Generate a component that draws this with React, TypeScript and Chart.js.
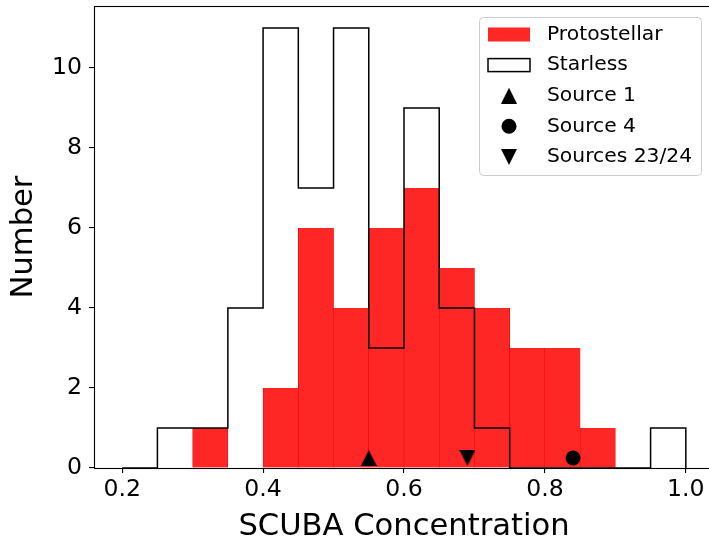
import React, { useEffect, useRef } from 'react';
import { Chart, registerables } from 'chart.js';

Chart.register(...registerables);

// ---- data ----
const binEdges = [0.2, 0.25, 0.3, 0.35, 0.4, 0.45, 0.5, 0.55, 0.6, 0.65, 0.7, 0.75, 0.8, 0.85, 0.9, 0.95, 1.0];
const protostellarCounts = [0, 0, 1, 0, 2, 6, 4, 6, 7, 5, 4, 3, 3, 1, 0, 0];
const starlessCounts = [0, 1, 1, 4, 11, 7, 11, 3, 9, 4, 1, 0, 0, 0, 0, 1];

const source1X = [0.55];
const source1Y = [0.25];
const source4X = [0.84];
const source4Y = [0.25];
const sources2324X = [0.69];
const sources2324Y = [0.25];

const xTicks = [0.2, 0.4, 0.6, 0.8, 1.0];
const yTicks = [0, 2, 4, 6, 8, 10];
const xRange = [0.16, 1.04];
const yRange = [0, 11.55];

const legendLabels = ['Protostellar', 'Starless', 'Source 1', 'Source 4', 'Sources 23/24'];

const FONT = '"DejaVu Sans", "Liberation Sans", sans-serif';
const RED = 'rgba(255, 38, 38, 1)';

function makeTriangle(up: boolean, size: number): HTMLCanvasElement {
  const c = document.createElement('canvas');
  c.width = size;
  c.height = size;
  const ctx = c.getContext('2d')!;
  ctx.fillStyle = '#000';
  ctx.beginPath();
  if (up) {
    ctx.moveTo(size / 2, 0);
    ctx.lineTo(size, size);
    ctx.lineTo(0, size);
  } else {
    ctx.moveTo(0, 0);
    ctx.lineTo(size, 0);
    ctx.lineTo(size / 2, size);
  }
  ctx.closePath();
  ctx.fill();
  return c;
}

function zeroPad(axis: any) {
  axis.paddingTop = 0;
  axis.paddingBottom = 0;
  axis.paddingLeft = 0;
  axis.paddingRight = 0;
}

export default function App() {
  const ref = useRef<HTMLCanvasElement | null>(null);

  useEffect(() => {
    if (!ref.current) return;
    const triUp = makeTriangle(true, 16);
    const triDown = makeTriangle(false, 16);

    const centers = protostellarCounts.map((_, i) => (binEdges[i] + binEdges[i + 1]) / 2);
    const barData = protostellarCounts.map((c, i) => ({ x: centers[i], y: c }));

    const stepData: { x: number; y: number }[] = [{ x: binEdges[0], y: 0 }];
    starlessCounts.forEach((c, i) => {
      stepData.push({ x: binEdges[i], y: c });
      stepData.push({ x: binEdges[i + 1], y: c });
    });
    stepData.push({ x: binEdges[binEdges.length - 1], y: 0 });

    const spinePlugin = {
      id: 'spines',
      afterDatasetsDraw(chart: any) {
        const { ctx, chartArea: a } = chart;
        ctx.save();
        ctx.strokeStyle = '#000';
        ctx.lineWidth = 1.1;
        ctx.strokeRect(a.left + 0.5, a.top + 0.5, a.right - a.left, a.bottom - a.top);
        ctx.restore();
      },
    };

    const legendPlugin = {
      id: 'mplLegend',
      afterDraw(chart: any) {
        const ctx = chart.ctx as CanvasRenderingContext2D;
        ctx.save();
        const bx = 479.5, by = 17.5, bw = 222, bh = 158;
        ctx.beginPath();
        (ctx as any).roundRect(bx, by, bw, bh, 4);
        ctx.fillStyle = 'rgba(255,255,255,0.8)';
        ctx.fill();
        ctx.strokeStyle = '#cccccc';
        ctx.lineWidth = 1;
        ctx.stroke();

        const rowY = (i: number) => 34.5 + i * 30.6;
        const hx = 488, hw = 42, mx = 509;
        ctx.fillStyle = RED;
        ctx.fillRect(hx, rowY(0) - 7, hw, 14);
        ctx.strokeStyle = '#000';
        ctx.lineWidth = 1.5;
        ctx.strokeRect(hx, rowY(1) - 6.5, hw, 13);
        ctx.drawImage(triUp, mx - 8, rowY(2) - 8);
        ctx.fillStyle = '#000';
        ctx.beginPath();
        ctx.arc(mx, rowY(3), 7.5, 0, Math.PI * 2);
        ctx.fill();
        ctx.drawImage(triDown, mx - 8, rowY(4) - 8);

        ctx.fillStyle = '#000';
        ctx.font = `20.3px ${FONT}`;
        ctx.textBaseline = 'middle';
        ctx.textAlign = 'left';
        legendLabels.forEach((t, i) => ctx.fillText(t, 547, rowY(i)));
        ctx.restore();
      },
    };

    const chart = new Chart(ref.current, {
      type: 'bar',
      data: {
        datasets: [
          {
            type: 'bar',
            label: legendLabels[0],
            data: barData,
            backgroundColor: RED,
            borderColor: 'rgba(240, 0, 0, 1)',
            borderWidth: { left: 0.6, right: 0.6, top: 0, bottom: 0 },
            borderSkipped: false,
            barPercentage: 1,
            categoryPercentage: 1,
            grouped: false,
            order: 3,
          } as any,
          {
            type: 'line',
            label: legendLabels[1],
            data: stepData,
            borderColor: '#000',
            borderWidth: 1.5,
            pointRadius: 0,
            fill: false,
            tension: 0,
            order: 2,
          } as any,
          {
            type: 'line',
            label: legendLabels[2],
            data: source1X.map((x, i) => ({ x, y: source1Y[i] })),
            showLine: false,
            pointStyle: triUp,
            pointRadius: 8,
            order: 1,
          } as any,
          {
            type: 'line',
            label: legendLabels[3],
            data: source4X.map((x, i) => ({ x, y: source4Y[i] })),
            showLine: false,
            pointStyle: 'circle',
            pointRadius: 7.5,
            pointBorderWidth: 0,
            pointBackgroundColor: '#000',
            order: 1,
          } as any,
          {
            type: 'line',
            label: legendLabels[4],
            data: sources2324X.map((x, i) => ({ x, y: sources2324Y[i] })),
            showLine: false,
            pointStyle: triDown,
            pointRadius: 8,
            order: 1,
          } as any,
        ],
      },
      options: {
        responsive: false,
        animation: false,
        layout: { autoPadding: false, padding: { top: 6, right: 6, left: 0, bottom: 0 } },
        plugins: { legend: { display: false }, tooltip: { enabled: false } },
        scales: {
          x: {
            type: 'linear',
            min: xRange[0],
            max: xRange[1],
            offset: false,
            grid: {
              offset: false,
              display: true,
              drawOnChartArea: false,
              drawTicks: true,
              tickLength: 5,
              color: '#000',
              lineWidth: 1.1,
            },
            border: { display: false },
            ticks: {
              color: '#000',
              font: { family: FONT, size: 23.6 },
              padding: 3,
              maxRotation: 0,
              includeBounds: false,
              callback: (v: any) => Number(v).toFixed(1),
            },
            afterBuildTicks: (axis: any) => {
              axis.ticks = xTicks.map((v) => ({ value: v }));
            },
            afterFit: (axis: any) => {
              axis.height = 92;
              zeroPad(axis);
            },
            title: {
              display: true,
              text: 'SCUBA Concentration',
              color: '#000',
              font: { family: FONT, size: 30.6 },
              padding: { top: 0, bottom: 15 },
            },
          } as any,
          y: {
            type: 'linear',
            min: yRange[0],
            max: yRange[1],
            grid: {
              display: true,
              drawOnChartArea: false,
              drawTicks: true,
              tickLength: 5,
              color: '#000',
              lineWidth: 1.1,
            },
            border: { display: false },
            ticks: {
              color: '#000',
              font: { family: FONT, size: 23.6 },
              padding: 7,
              includeBounds: false,
              callback: (v: any) => String(v),
            },
            afterBuildTicks: (axis: any) => {
              axis.ticks = yTicks.map((v) => ({ value: v }));
            },
            afterFit: (axis: any) => {
              axis.width = 94;
              zeroPad(axis);
            },
            title: {
              display: true,
              text: 'Number',
              color: '#000',
              font: { family: FONT, size: 30.6 },
              padding: { top: 5.5, bottom: 0 },
            },
          } as any,
        },
      },
      plugins: [spinePlugin, legendPlugin],
    } as any);

    return () => chart.destroy();
  }, []);

  return (
    <div
      style={{
        position: 'fixed',
        left: 0,
        top: 0,
        width: 709,
        height: 539,
        overflow: 'hidden',
        background: '#fff',
      }}
    >
      <canvas ref={ref} width={720} height={560} style={{ display: 'block', width: 720, height: 560 }} />
    </div>
  );
}
